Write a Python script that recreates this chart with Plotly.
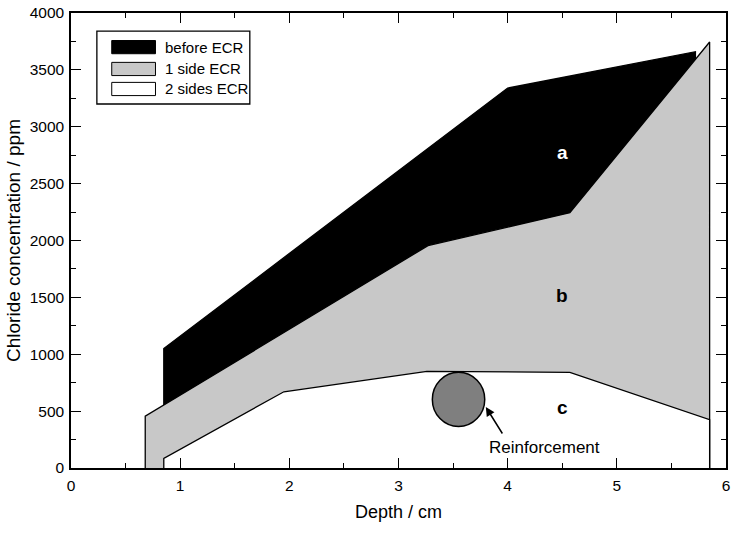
import plotly.graph_objects as go

# ---- data (depth in cm, chloride in ppm) ----
depth_before = [0.85, 0.85, 4.0, 5.72, 5.72]
cl_before = [0, 1050, 3340, 3660, 0]

depth_one = [0.68, 0.68, 3.27, 4.57, 5.85, 5.85]
cl_one = [0, 455, 1955, 2245, 3745, 0]

depth_two = [0.85, 0.85, 1.95, 3.26, 4.57, 5.85, 5.85]
cl_two = [0, 85, 670, 850, 840, 425, 0]

series_names = ["before ECR", "1 side ECR", "2 sides ECR"]
series_colors = ["#000000", "#c8c8c8", "#ffffff"]

region_labels = ["a", "b", "c"]
region_x = [4.5, 4.5, 4.5]
region_y = [2770, 1520, 530]
region_colors = ["#ffffff", "#000000", "#000000"]

rebar_center = (3.55, 603)
rebar_radius = (0.24, 238)
rebar_arrow_head = (3.80, 536)
rebar_arrow_tail = (3.96, 290)
rebar_text_pos = (4.34, 176)

x_ticks = [0, 1, 2, 3, 4, 5, 6]
y_ticks = [0, 500, 1000, 1500, 2000, 2500, 3000, 3500, 4000]

FONT = "Liberation Sans, Arial, Helvetica, sans-serif"

fig = go.Figure()
for xs, ys, name, col in zip([depth_before, depth_one, depth_two],
                             [cl_before, cl_one, cl_two],
                             series_names, series_colors):
    fig.add_trace(go.Scatter(x=xs, y=ys, fill="toself", fillcolor=col,
                             mode="lines", line=dict(color="black", width=1.3),
                             name=name, showlegend=False, hoverinfo="skip"))

# region labels
for t, x, y, c in zip(region_labels, region_x, region_y, region_colors):
    fig.add_annotation(x=x, y=y, text="<b>%s</b>" % t, showarrow=False,
                       font=dict(family=FONT, size=19, color=c))

# reinforcement bar
cx, cy = rebar_center
rx, ry = rebar_radius
fig.add_shape(type="circle", xref="x", yref="y", x0=cx - rx, x1=cx + rx,
              y0=cy - ry, y1=cy + ry, fillcolor="#7f7f7f",
              line=dict(color="black", width=1.5), layer="above")
fig.add_annotation(x=rebar_arrow_head[0], y=rebar_arrow_head[1],
                   ax=rebar_arrow_tail[0], ay=rebar_arrow_tail[1],
                   axref="x", ayref="y", text="", showarrow=True,
                   arrowhead=2, arrowsize=1.2, arrowwidth=1.5, arrowcolor="black",
                   standoff=0, startstandoff=0)
fig.add_annotation(x=rebar_text_pos[0], y=rebar_text_pos[1], text="Reinforcement",
                   showarrow=False, font=dict(family=FONT, size=17, color="black"))

# custom legend
L = dict(x0=0.0395, x1=0.273, y0=0.800, y1=0.960)
fig.add_shape(type="rect", xref="paper", yref="paper", **L,
              fillcolor="white", line=dict(color="black", width=1.3), layer="above")
row_y = [0.925, 0.877, 0.833]
for name, col, yc in zip(series_names, series_colors, row_y):
    fig.add_shape(type="rect", xref="paper", yref="paper",
                  x0=0.0622, x1=0.129, y0=yc - 0.0145, y1=yc + 0.0145,
                  fillcolor=col, line=dict(color="black", width=1), layer="above")
    fig.add_annotation(xref="paper", yref="paper", x=0.141, y=yc, text=name,
                       xanchor="left", yanchor="middle", showarrow=False,
                       font=dict(family=FONT, size=15, color="black"))

axis_common = dict(showgrid=False, zeroline=False, showline=True, linecolor="black",
                   linewidth=1.5, mirror="allticks", ticks="inside", ticklen=10,
                   tickwidth=1.3, tickcolor="black",
                   tickfont=dict(family=FONT, size=15.5, color="black"))

fig.update_layout(
    width=734, height=534,
    margin=dict(l=71, r=4, t=13, b=66),
    paper_bgcolor="white", plot_bgcolor="white",
    showlegend=False,
    xaxis=dict(range=[0, 6], tickvals=x_ticks, ticklabelstandoff=3,
               minor=dict(dtick=0.5, ticks="inside", ticklen=5, tickcolor="black",
                          tickwidth=1.3),
               title=dict(text="Depth / cm", font=dict(family=FONT, size=18, color="black"),
                          standoff=12),
               **axis_common),
    yaxis=dict(range=[0, 4000], tickvals=y_ticks, ticklabelstandoff=2,
               minor=dict(dtick=250, ticks="inside", ticklen=5, tickcolor="black",
                          tickwidth=1.3),
               title=dict(text="Chloride concentration / ppm",
                          font=dict(family=FONT, size=19, color="black"), standoff=4),
               **axis_common),
)

fig.write_html("out.html")
